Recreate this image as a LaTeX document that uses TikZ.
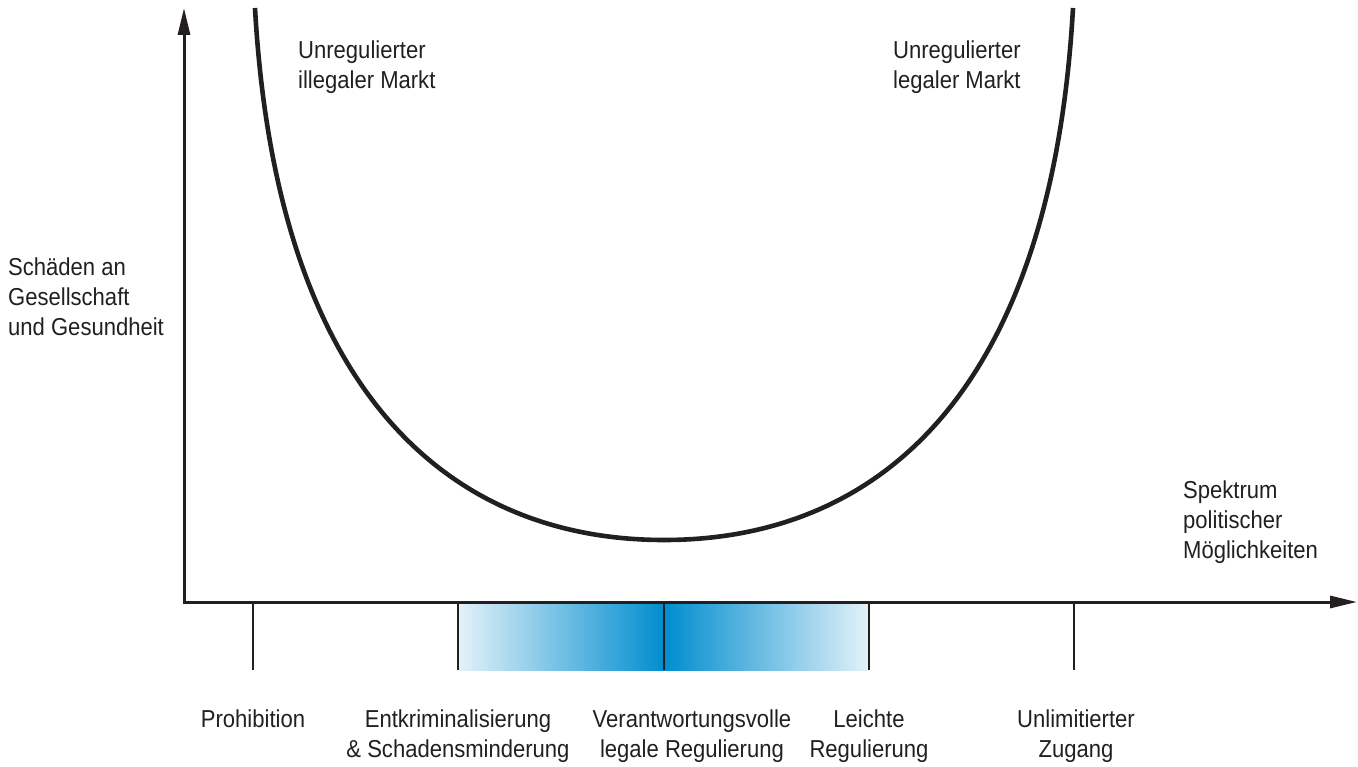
\documentclass[tikz,border=0pt]{standalone}
\usepackage{fontspec}
\setmainfont{Liberation Sans}[FakeStretch=0.9]
\usetikzlibrary{arrows.meta}
\definecolor{barblue}{RGB}{0,141,207}
\definecolor{barlight}{RGB}{228,242,249}
\definecolor{ink}{RGB}{35,31,32}
\begin{document}
\begin{tikzpicture}[x=1pt,y=-1pt,
  axis/.style={draw=ink,line width=3pt,-{Triangle[length=27pt,width=12pt]}},
  tick/.style={draw=ink,line width=2.6pt},
  curve/.style={draw=ink,line width=4.6pt},
  lbl/.style={font=\fontsize{24.5}{30}\selectfont,text=ink,inner sep=0pt},
  lleft/.style={lbl,align=left,anchor=base west},
  lcenter/.style={lbl,align=center,anchor=base}]
\useasboundingbox (0,0) rectangle (1358,767);
% coordinates
\coordinate (O) at (184,602);
\coordinate (ytip) at (184,8);
\coordinate (xtip) at (1357,602);
\coordinate (t1) at (253,602);
\coordinate (t2) at (458,602);
\coordinate (t3) at (664,602);
\coordinate (t4) at (869,602);
\coordinate (t5) at (1074,602);
% gradient bar
\shade[left color=barlight,right color=barblue] (458,602) rectangle (664,670);
\shade[left color=barblue,right color=barlight] (664,602) rectangle (869,670);
% ticks
\foreach \t in {t1,t2,t3,t4,t5} \draw[tick] (\t) -- ++(0,68);
% axes
\draw[axis,line cap=rect] (O) -- (ytip);
\draw[axis] (O) -- (xtip);
% U curve
\coordinate (cl) at (255,8);
\coordinate (cb) at (664,540);
\coordinate (cr) at (1073,8);
\draw[curve] (cl) .. controls (277,400) and (455,540) .. (cb)
  .. controls (873,540) and (1051,400) .. (cr);
% labels (base anchor = baseline of last line)
\node[lleft] (ylab) at (8,336) {Schäden an\\Gesellschaft\\und Gesundheit};
\node[lleft] (xlab) at (1183,558) {Spektrum\\politischer\\Möglichkeiten};
\node[lleft] (ill) at (298,89) {Unregulierter\\illegaler Markt};
\node[lleft] (leg) at (893,89) {Unregulierter\\legaler Markt};
\node[lcenter] (p1) at (253,727) {Prohibition};
\node[lcenter] (p2) at (458,757) {Entkriminalisierung\\\& Schadensminderung};
\node[lcenter] (p3) at (692,757) {Verantwortungsvolle\\legale Regulierung};
\node[lcenter] (p4) at (869,757) {Leichte\\Regulierung};
\node[lcenter] (p5) at (1076,757) {Unlimitierter\\Zugang};
\end{tikzpicture}
\end{document}
